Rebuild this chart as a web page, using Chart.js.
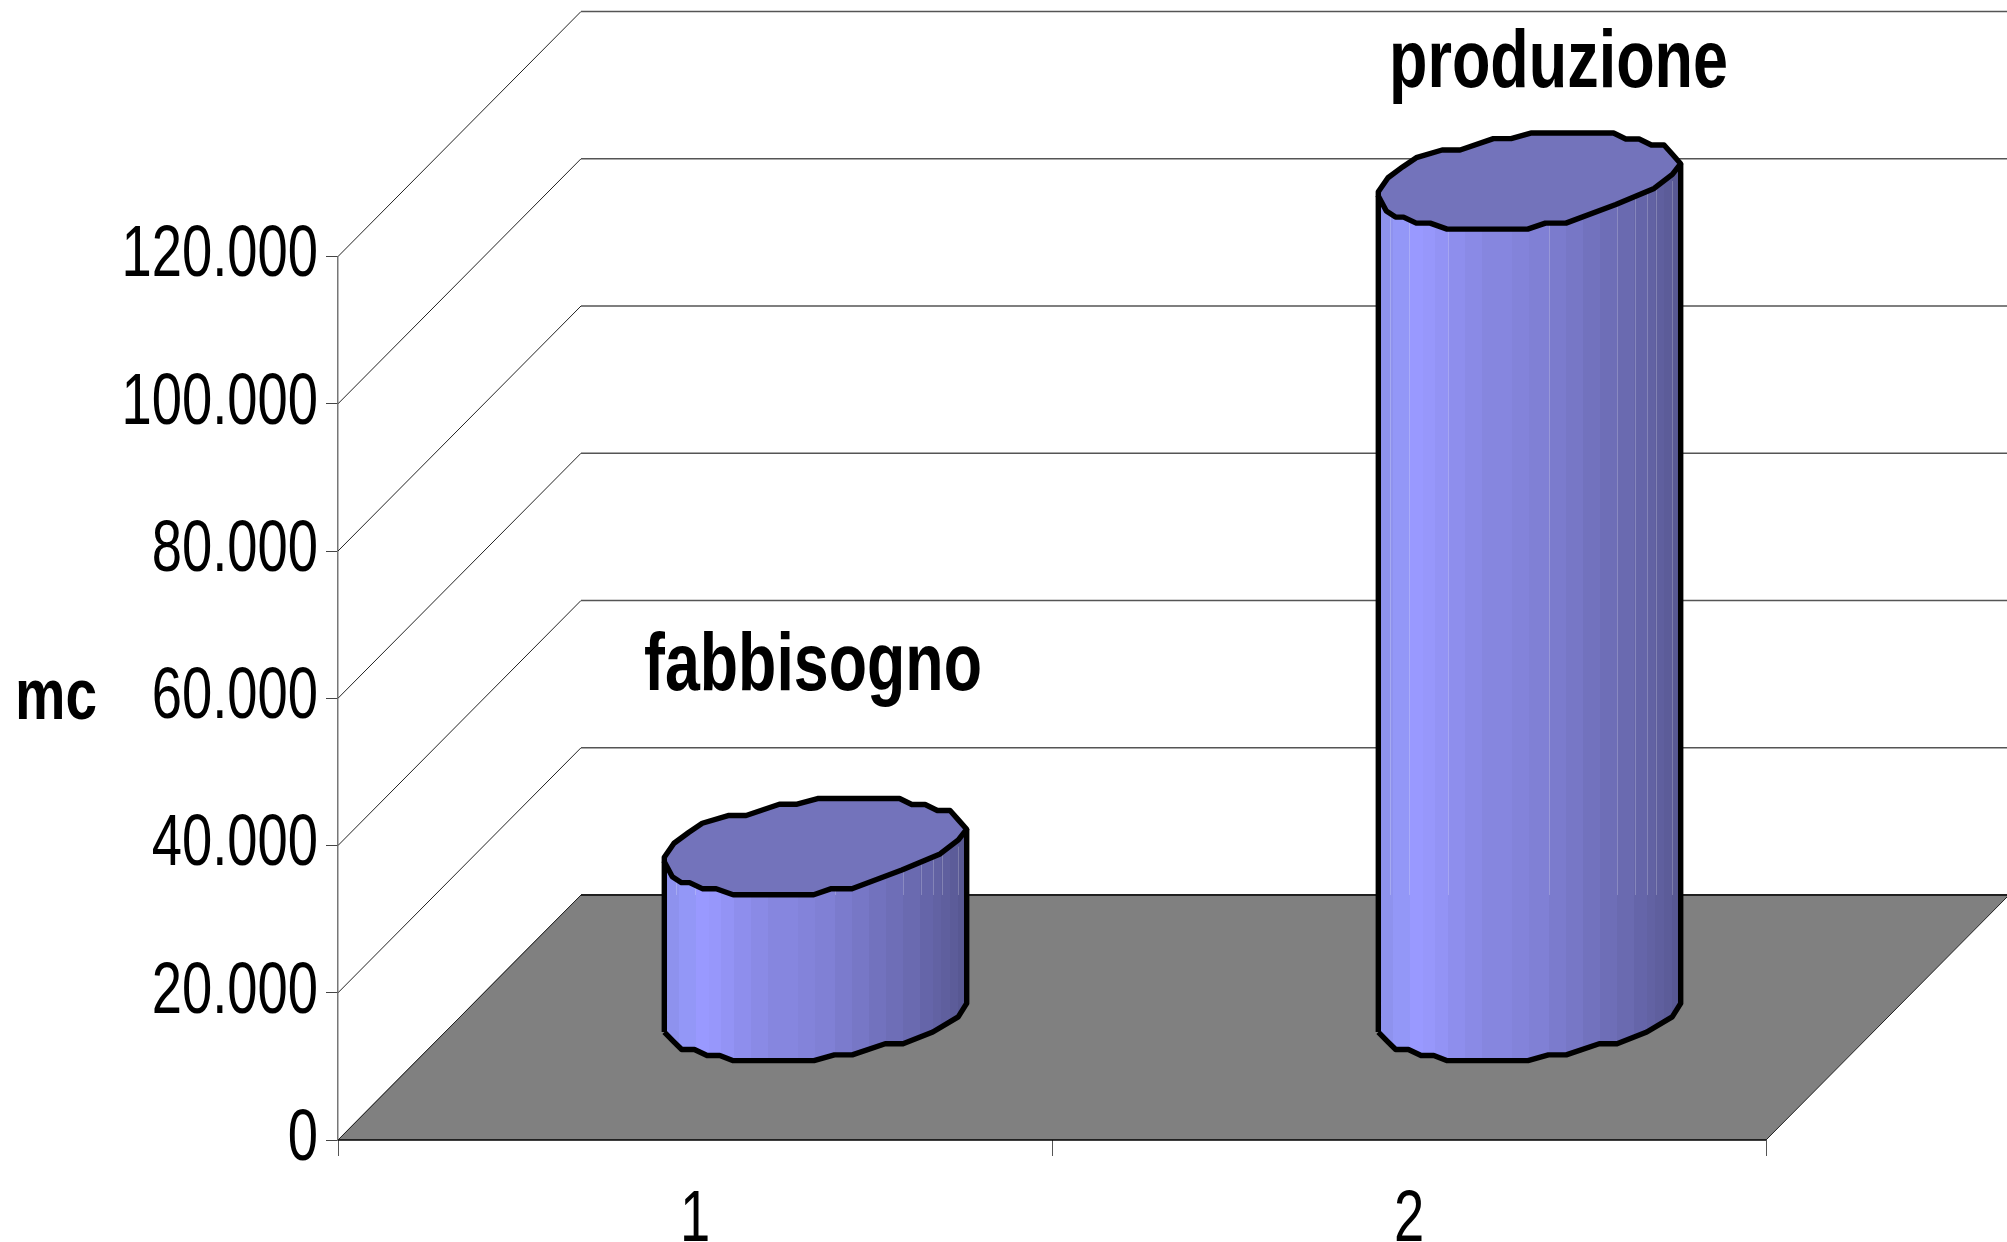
<!DOCTYPE html>
<html>
<head>
<meta charset="utf-8">
<title>fabbisogno / produzione</title>
<style>
  html, body { margin: 0; padding: 0; background: #ffffff; }
  canvas { display: block; }
</style>
<script src="https://cdn.jsdelivr.net/npm/chart.js@4"></script>
</head>
<body>
<canvas id="chart" width="2007" height="1242"></canvas>
<script>
// Chart values
const categories = ['1', '2'];
const volumes = [22600, 113000];
const seriesNames = ['fabbisogno', 'produzione'];
const axisUnit = 'mc';
const tickValues = [0, 20000, 40000, 60000, 80000, 100000, 120000];
const tickLabels = ['0', '20.000', '40.000', '60.000', '80.000', '100.000', '120.000'];

// Depth of the fake 3D box, in pixels
const DEPTH_X = 243;
const DEPTH_Y = 245;
const CYL_SHIFT_X = 120.5;
const CYL_SHIFT_Y = 127;
const CAP_RATIO = 0.318;
const TICK_SQUEEZE = 0.755;

// Faceted outline of a cylinder cap, on a unit box
const capUpper = [[-1, .222], [-.936, -.069], [-.837, -.299], [-.749, -.486], [-.578, -.646], [-.459, -.646],
  [-.239, -.882], [-.122, -.882], [.014, -1], [.556, -1], [.637, -.875], [.725, -.875], [.806, -.75],
  [.89, -.75], [.945, -.556], [1, -.361]];
const capLower = [[1, -.361], [.945, -.139], [.824, .153], [.571, .486], [.241, .875], [.105, .875],
  [-.012, 1], [-.545, 1], [-.657, .875], [-.749, .875], [-.833, .75], [-.886, .75], [-.947, .625], [-1, .313]];
const baseLower = [[1, -.189], [.944, .091], [.776, .406], [.579, .65], [.461, .65], [.243, .881], [.125, .881],
  [-.01, 1], [-.548, 1], [-.633, .895], [-.717, .895], [-.801, .769], [-.885, .769], [-.935, .615], [-1, .406]];

// Facet shading across the cylinder body
const bandEdges = [0, .049, .105, .147, .189, .231, .287, .343, .441, .497, .566, .622, .678, .734, .79, .846, .888, .916, .944, .972, 1];
const bandColors = ['#8e92ee', '#9397f7', '#9999ff', '#9797fb', '#9393f5', '#8e8eed', '#8a8ae6', '#8686df', '#8383da',
  '#8080d5', '#7b7bcd', '#7777c6', '#7272be', '#6e6eb7', '#6a6ab0', '#6565a9', '#6262a3', '#5f5f9e', '#5c5c99', '#585893'];
const facetSeams = [.04, .1, .23, .565, .79, .85, .89, .92, .97];
const capColor = '#7373bb';

const labelFont = 'bold 82px "Liberation Sans", Arial, sans-serif';
const namePlacement = [{ x: 644, y: 690, w: 338 }, { x: 1389, y: 87, w: 339 }];

function squeezeLabels(scale) {
  if (scale._squeezed) return;
  scale._squeezed = true;
  const draw = scale.drawLabels;
  scale.drawLabels = function (area) {
    const ctx = this.ctx;
    const items = this.getLabelItems(area);
    items.forEach(item => {
      const ax = item.options.translation[0];
      ctx.save();
      ctx.translate(ax, 0);
      ctx.scale(TICK_SQUEEZE, 1);
      ctx.translate(-ax, 0);
      this._labelItems = [item];
      draw.call(this, area);
      ctx.restore();
    });
    this._labelItems = items;
  };
}

function boxPlugin() {
  return {
    id: 'box3d',
    beforeDraw(chart) {
      squeezeLabels(chart.scales.x);
      squeezeLabels(chart.scales.y);
    },
    beforeDatasetsDraw(chart) {
      const { ctx, scales: { x, y } } = chart;
      const left = x.left, right = x.right, zero = y.getPixelForValue(0);
      const edge = chart.width;
      ctx.save();
      // Wall grid: a diagonal from the axis, then a line along the back wall
      tickValues.forEach(v => {
        const py = y.getPixelForValue(v);
        ctx.beginPath();
        ctx.moveTo(left, py);
        ctx.lineTo(left + DEPTH_X, py - DEPTH_Y);
        ctx.strokeStyle = '#222222';
        ctx.lineWidth = 1;
        ctx.stroke();
        ctx.beginPath();
        ctx.moveTo(left + DEPTH_X, py - DEPTH_Y);
        ctx.lineTo(edge, py - DEPTH_Y);
        ctx.strokeStyle = '#555555';
        ctx.lineWidth = 1.6;
        ctx.stroke();
      });
      // Floor
      ctx.beginPath();
      ctx.moveTo(left, zero);
      ctx.lineTo(right, zero);
      ctx.lineTo(right + DEPTH_X, zero - DEPTH_Y);
      ctx.lineTo(left + DEPTH_X, zero - DEPTH_Y);
      ctx.closePath();
      ctx.fillStyle = '#808080';
      ctx.fill();
      ctx.strokeStyle = '#000000';
      ctx.lineWidth = 1.6;
      ctx.beginPath();
      ctx.moveTo(left + DEPTH_X, zero - DEPTH_Y);
      ctx.lineTo(edge, zero - DEPTH_Y);
      ctx.moveTo(left, zero);
      ctx.lineTo(right, zero);
      ctx.stroke();
      ctx.lineWidth = 1;
      ctx.strokeStyle = '#222222';
      ctx.beginPath();
      ctx.moveTo(right, zero);
      ctx.lineTo(right + DEPTH_X, zero - DEPTH_Y);
      ctx.moveTo(left, zero);
      ctx.lineTo(left + DEPTH_X, zero - DEPTH_Y);
      ctx.stroke();
      ctx.restore();
    },
    afterDatasetsDraw(chart) {
      const { ctx, scales: { y } } = chart;
      const backEdge = y.getPixelForValue(0) - DEPTH_Y;
      const meta = chart.getDatasetMeta(0);
      ctx.save();
      meta.data.forEach((bar, i) => {
        const props = bar.getProps(['x', 'y', 'base', 'width'], true);
        drawCylinder(ctx, props, backEdge);
        const place = namePlacement[i];
        ctx.font = labelFont;
        ctx.fillStyle = '#000000';
        ctx.textAlign = 'left';
        ctx.textBaseline = 'alphabetic';
        ctx.fillText(seriesNames[i], place.x, place.y, place.w);
      });
      ctx.font = 'bold 72px "Liberation Sans", Arial, sans-serif';
      ctx.fillText(axisUnit, 15, 719, 82);
      ctx.restore();
    }
  };
}

function tracePoints(ctx, pts, cx, cy, rx, ry, start) {
  pts.forEach((p, n) => {
    const px = cx + p[0] * rx, py = cy + p[1] * ry;
    if (n === 0 && start) ctx.moveTo(px, py); else ctx.lineTo(px, py);
  });
}

function drawCylinder(ctx, bar, backEdge) {
  const cx = bar.x + CYL_SHIFT_X;
  const rx = bar.width / 2;
  const ry = rx * CAP_RATIO;
  const topY = bar.y - CYL_SHIFT_Y;
  const baseY = bar.base - CYL_SHIFT_Y;
  const lowerReversed = capLower.slice().reverse();
  const baseReversed = baseLower.slice().reverse();

  const grad = ctx.createLinearGradient(cx - rx, 0, cx + rx, 0);
  bandColors.forEach((c, n) => {
    grad.addColorStop(bandEdges[n], c);
    grad.addColorStop(bandEdges[n + 1], c);
  });

  // Side wall
  ctx.beginPath();
  tracePoints(ctx, baseLower, cx, baseY, rx, ry, true);
  tracePoints(ctx, lowerReversed, cx, topY, rx, ry, false);
  ctx.closePath();
  ctx.fillStyle = grad;
  ctx.fill();

  // Thin seams between the facets, above the floor's back edge
  ctx.strokeStyle = 'rgba(255,255,255,0.22)';
  ctx.lineWidth = 1;
  facetSeams.forEach(f => {
    const sx = Math.round(cx - rx + f * 2 * rx) + 0.5;
    ctx.beginPath();
    ctx.moveTo(sx, topY);
    ctx.lineTo(sx, backEdge);
    ctx.stroke();
  });

  // Top cap
  ctx.beginPath();
  tracePoints(ctx, capUpper, cx, topY, rx, ry, true);
  tracePoints(ctx, capLower, cx, topY, rx, ry, false);
  ctx.closePath();
  ctx.fillStyle = capColor;
  ctx.fill();

  // Outline
  ctx.strokeStyle = '#000000';
  ctx.lineWidth = 5.4;
  ctx.lineJoin = 'round';
  ctx.stroke();
  ctx.beginPath();
  tracePoints(ctx, baseReversed, cx, baseY, rx, ry, true);
  ctx.lineTo(cx + rx, topY + capLower[0][1] * ry);
  ctx.moveTo(cx - rx, baseY + baseLower[baseLower.length - 1][1] * ry);
  ctx.lineTo(cx - rx, topY + capLower[capLower.length - 1][1] * ry);
  ctx.stroke();
}

const axisFont = { family: '"Liberation Sans", Arial, sans-serif', size: 72 };

new Chart(document.getElementById('chart'), {
  type: 'bar',
  data: {
    labels: categories,
    datasets: [{
      data: volumes,
      backgroundColor: 'rgba(0,0,0,0)',
      borderWidth: 0,
      barPercentage: 0.4235,
      categoryPercentage: 1
    }]
  },
  plugins: [boxPlugin()],
  options: {
    responsive: false,
    animation: false,
    layout: { padding: { top: 256.5, right: 241, left: 0, bottom: 0 } },
    plugins: { legend: { display: false }, tooltip: { enabled: false }, title: { display: false } },
    scales: {
      x: {
        offset: true,
        afterFit(scale) { scale.height = 102; },
        grid: { display: true, offset: true, drawOnChartArea: false, tickLength: 16, tickColor: '#555555' },
        border: { display: false },
        ticks: { color: '#000000', font: axisFont, padding: 22, maxRotation: 0 }
      },
      y: {
        min: 0,
        max: 120000,
        afterFit(scale) { scale.width = 338; },
        afterBuildTicks(scale) { scale.ticks = tickValues.map(value => ({ value })); },
        grid: { display: true, drawOnChartArea: false, tickLength: 12, tickColor: '#444444' },
        border: { display: true, color: '#777777', width: 1.5 },
        ticks: {
          color: '#000000',
          font: axisFont,
          padding: 8,
          callback: value => tickLabels[tickValues.indexOf(value)]
        }
      }
    }
  }
});
</script>
</body>
</html>
